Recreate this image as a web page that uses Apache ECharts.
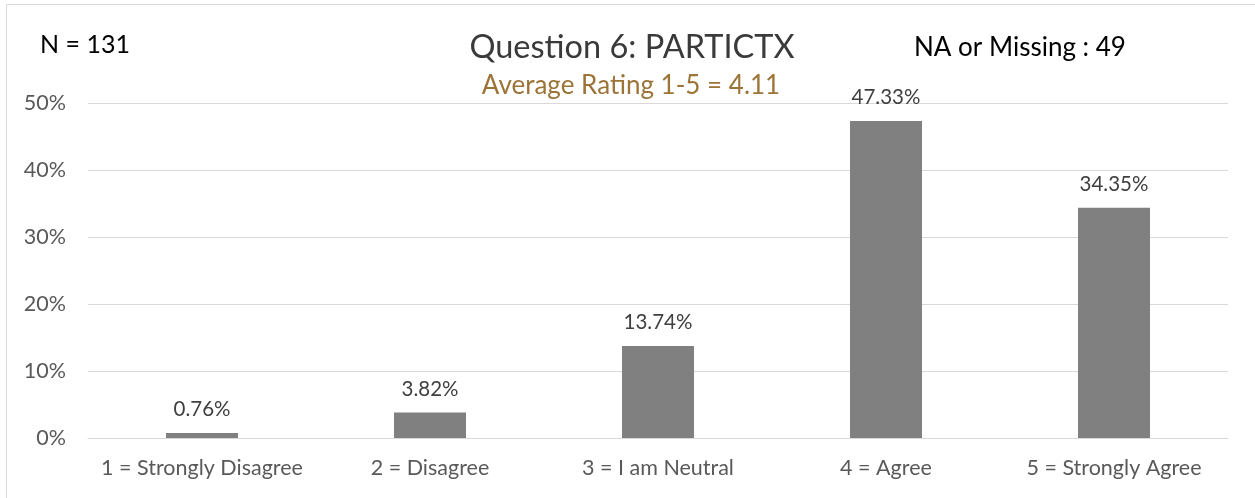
<!DOCTYPE html>
<html>
<head>
<meta charset="utf-8">
<script src="https://cdn.jsdelivr.net/npm/echarts@6/dist/echarts.min.js"></script>
<style>
html, body { margin: 0; padding: 0; background: #fff; }
#chart { width: 1255px; height: 498px; }
</style>
</head>
<body>
<div id="chart"></div>
<script>
// ratings and their share of answers (%)
const categories = ['1 = Strongly Disagree', '2 = Disagree', '3 = I am Neutral', '4 = Agree', '5 = Strongly Agree']
const percents = [0.76, 3.82, 13.74, 47.33, 34.35]

const font = 'Lato, "Open Sans", sans-serif'

const chart = echarts.init(document.getElementById('chart'))

const options = {
  animation: false,
  textStyle: { fontFamily: font },
  grid: { left: 88, right: 27, top: 103, bottom: 60 },
  xAxis: {
    type: 'category',
    data: categories,
    axisLine: { lineStyle: { color: '#d9d9d9', width: 1 } },
    axisTick: { show: false },
    axisLabel: { interval: 0, color: '#595959', fontSize: 21.5, fontFamily: font, margin: 19 }
  },
  yAxis: {
    type: 'value',
    min: 0,
    max: 50,
    interval: 10,
    axisLine: { show: false },
    axisTick: { show: false },
    splitLine: { lineStyle: { color: '#d9d9d9', width: 1 } },
    axisLabel: { formatter: '{value}%', color: '#595959', fontSize: 21.5, fontFamily: font, margin: 22 }
  },
  series: [
    {
      type: 'bar',
      data: percents,
      barWidth: 72,
      itemStyle: { color: '#808080' },
      // 柱顶数值
      label: {
        show: true,
        position: 'top',
        distance: 13,
        formatter: p => p.value.toFixed(2) + '%',
        color: '#404040',
        fontSize: 20.5,
        fontFamily: font
      }
    }
  ],
  graphic: [
    {
      type: 'rect',
      silent: true,
      shape: { x: 6.5, y: 4.5, width: 1400, height: 700 },
      style: { fill: 'none', stroke: '#d9d9d9', lineWidth: 1 }
    },
    {
      type: 'text', x: 40, y: 45,
      style: { text: 'N = 131', fill: '#000', font: '25px ' + font, textVerticalAlign: 'middle' }
    },
    {
      type: 'text', x: 632, y: 48,
      style: { text: 'Question 6: PARTICTX', fill: '#3a3a3a', font: '32.5px ' + font, textAlign: 'center', textVerticalAlign: 'middle' }
    },
    {
      type: 'text', x: 631, y: 86,
      style: { text: 'Average Rating 1-5 = 4.11', fill: '#9c7437', font: '26px ' + font, textAlign: 'center', textVerticalAlign: 'middle' }
    },
    {
      type: 'text', x: 914, y: 48,
      style: { text: 'NA or Missing : 49', fill: '#000', font: '26px ' + font, textVerticalAlign: 'middle' }
    }
  ]
}

chart.setOption(options)
</script>
</body>
</html>
